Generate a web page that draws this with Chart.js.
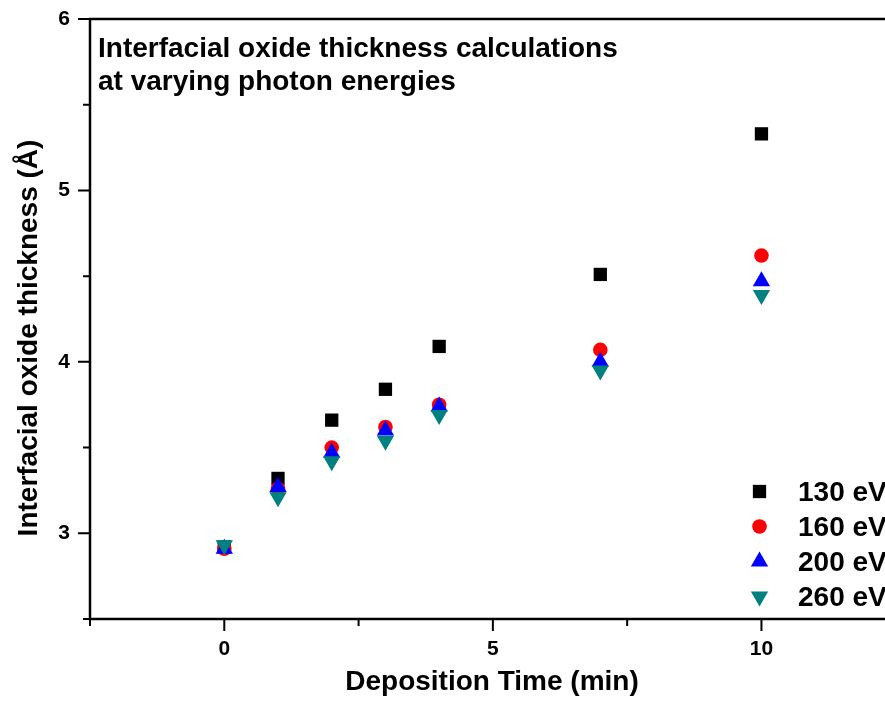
<!DOCTYPE html>
<html>
<head>
    <title>Interfacial oxide thickness</title>
    <script src="https://cdn.jsdelivr.net/npm/chart.js"></script>
    <style>
        body { margin: 0; background: #fff; }
        canvas { display: block; }
    </style>
</head>
<body>
    <canvas id="myChart" width="885" height="708"></canvas>
    <script>
        // deposition time (min)
        var times = [0, 1, 2, 3, 4, 7, 10];
        var energies = ['130 eV', '160 eV', '200 eV', '260 eV'];

        // interfacial oxide thickness (Å) for each photon energy
        var thick130 = [2.92, 3.32, 3.66, 3.84, 4.09, 4.51, 5.33];
        var thick160 = [2.91, 3.26, 3.50, 3.62, 3.75, 4.07, 4.62];
        var thick200 = [2.91, 3.27, 3.47, 3.60, 3.74, 4.00, 4.47];
        var thick260 = [2.93, 3.21, 3.42, 3.54, 3.69, 3.95, 4.39];

        var xTicks = [0, 5, 10];
        var xMinorTicks = [-2.5, 2.5, 7.5];
        var yTicks = [3, 4, 5, 6];
        var yMinorTicks = [2.5, 3.5, 4.5, 5.5];

        var titleLines = ['Interfacial oxide thickness calculations', 'at varying photon energies'];
        var xTitle = 'Deposition Time (min)';
        var yTitle = 'Interfacial oxide thickness (\u00C5)';

        var FONT = '"Liberation Sans", Arial, Helvetica, sans-serif';

        function toPoints(ys) {
            return times.map(function (t, i) { return { x: t, y: ys[i] }; });
        }

        var styles = [
            { color: '#000000', pointStyle: 'rect', radius: 9.4, rotation: 0, order: 4 },
            { color: '#ff0000', pointStyle: 'circle', radius: 7.3, rotation: 0, order: 3 },
            { color: '#0000ff', pointStyle: 'triangle', radius: 10, rotation: 0, order: 2 },
            { color: '#008080', pointStyle: 'triangle', radius: 10, rotation: 180, order: 1 }
        ];
        var series = [thick130, thick160, thick200, thick260];

        var datasets = series.map(function (ys, i) {
            var s = styles[i];
            return {
                label: energies[i],
                data: toPoints(ys),
                showLine: false,
                pointStyle: s.pointStyle,
                pointRadius: s.radius,
                pointRotation: s.rotation,
                pointBackgroundColor: s.color,
                pointBorderColor: s.color,
                pointBorderWidth: 0,
                order: s.order,
                clip: false
            };
        });

        // axes frame, ticks, titles and in-plot legend
        var decorations = {
            id: 'decorations',
            afterDraw: function (chart) {
                var ctx = chart.ctx;
                var a = chart.chartArea;
                var xs = chart.scales.x, ys = chart.scales.y;
                ctx.save();
                ctx.strokeStyle = '#000';
                ctx.fillStyle = '#000';

                // frame
                ctx.lineWidth = 2.5;
                ctx.beginPath();
                ctx.moveTo(a.right + 2, a.top);
                ctx.lineTo(a.left, a.top);
                ctx.lineTo(a.left, a.bottom);
                ctx.lineTo(a.right + 2, a.bottom);
                ctx.stroke();

                // tick marks (outward)
                ctx.lineWidth = 2;
                ctx.beginPath();
                xTicks.forEach(function (v) {
                    var px = xs.getPixelForValue(v);
                    ctx.moveTo(px, a.bottom); ctx.lineTo(px, a.bottom + 12);
                });
                xMinorTicks.forEach(function (v) {
                    var px = xs.getPixelForValue(v);
                    ctx.moveTo(px, a.bottom); ctx.lineTo(px, a.bottom + 7);
                });
                yTicks.forEach(function (v) {
                    var py = ys.getPixelForValue(v);
                    ctx.moveTo(a.left, py); ctx.lineTo(a.left - 12, py);
                });
                yMinorTicks.forEach(function (v) {
                    var py = ys.getPixelForValue(v);
                    ctx.moveTo(a.left, py); ctx.lineTo(a.left - 7, py);
                });
                ctx.stroke();

                ctx.font = 'bold 28px ' + FONT;

                // plot title
                ctx.textAlign = 'left';
                ctx.textBaseline = 'alphabetic';
                ctx.fillText(titleLines[0], 98, 57);
                ctx.fillText(titleLines[1], 98, 90);

                // axis titles
                ctx.textAlign = 'center';
                ctx.fillText(xTitle, 492, 690);
                ctx.save();
                ctx.translate(37, 338);
                ctx.rotate(-Math.PI / 2);
                ctx.fillText(yTitle, 0, 0);
                ctx.restore();

                // legend
                ctx.textAlign = 'left';
                energies.forEach(function (label, i) {
                    var s = styles[i];
                    var cy = 491.5 + i * 35;
                    ctx.fillStyle = s.color;
                    Chart.helpers.drawPoint(ctx, {
                        pointStyle: s.pointStyle,
                        radius: s.radius,
                        rotation: s.rotation,
                        borderWidth: 0
                    }, 759.5, cy);
                    ctx.fillStyle = '#000';
                    ctx.fillText(label, 798, cy + 9.5);
                });
                ctx.restore();
            }
        };

        var chart;

        function initChart() {
            var ctx = document.getElementById('myChart').getContext('2d');
            chart = new Chart(ctx, {
                type: 'scatter',
                data: { datasets: datasets },
                options: {
                    responsive: false,
                    animation: false,
                    layout: {
                        autoPadding: false,
                        padding: { left: 0, top: 19, right: 0, bottom: 0 }
                    },
                    plugins: {
                        legend: { display: false },
                        tooltip: { enabled: false }
                    },
                    scales: {
                        x: {
                            type: 'linear',
                            min: -2.5,
                            max: 12.3,
                            grid: { display: false },
                            border: { display: false },
                            afterBuildTicks: function (s) {
                                s.ticks = xTicks.map(function (v) { return { value: v }; });
                            },
                            afterFit: function (s) {
                                s.height = 89;
                                s.paddingLeft = 0;
                                s.paddingRight = 0;
                            },
                            ticks: {
                                padding: 10,
                                maxRotation: 0,
                                color: '#000',
                                font: { family: FONT, size: 21, weight: 'bold' }
                            }
                        },
                        y: {
                            type: 'linear',
                            min: 2.5,
                            max: 6,
                            grid: { display: false },
                            border: { display: false },
                            afterBuildTicks: function (s) {
                                s.ticks = yTicks.map(function (v) { return { value: v }; });
                            },
                            afterFit: function (s) {
                                s.width = 90;
                                s.paddingTop = 0;
                                s.paddingBottom = 0;
                            },
                            ticks: {
                                padding: 12,
                                color: '#000',
                                font: { family: FONT, size: 21, weight: 'bold' }
                            }
                        }
                    }
                },
                plugins: [decorations]
            });
        }

        window.onload = function () {
            initChart();
        };
    </script>
</body>
</html>
